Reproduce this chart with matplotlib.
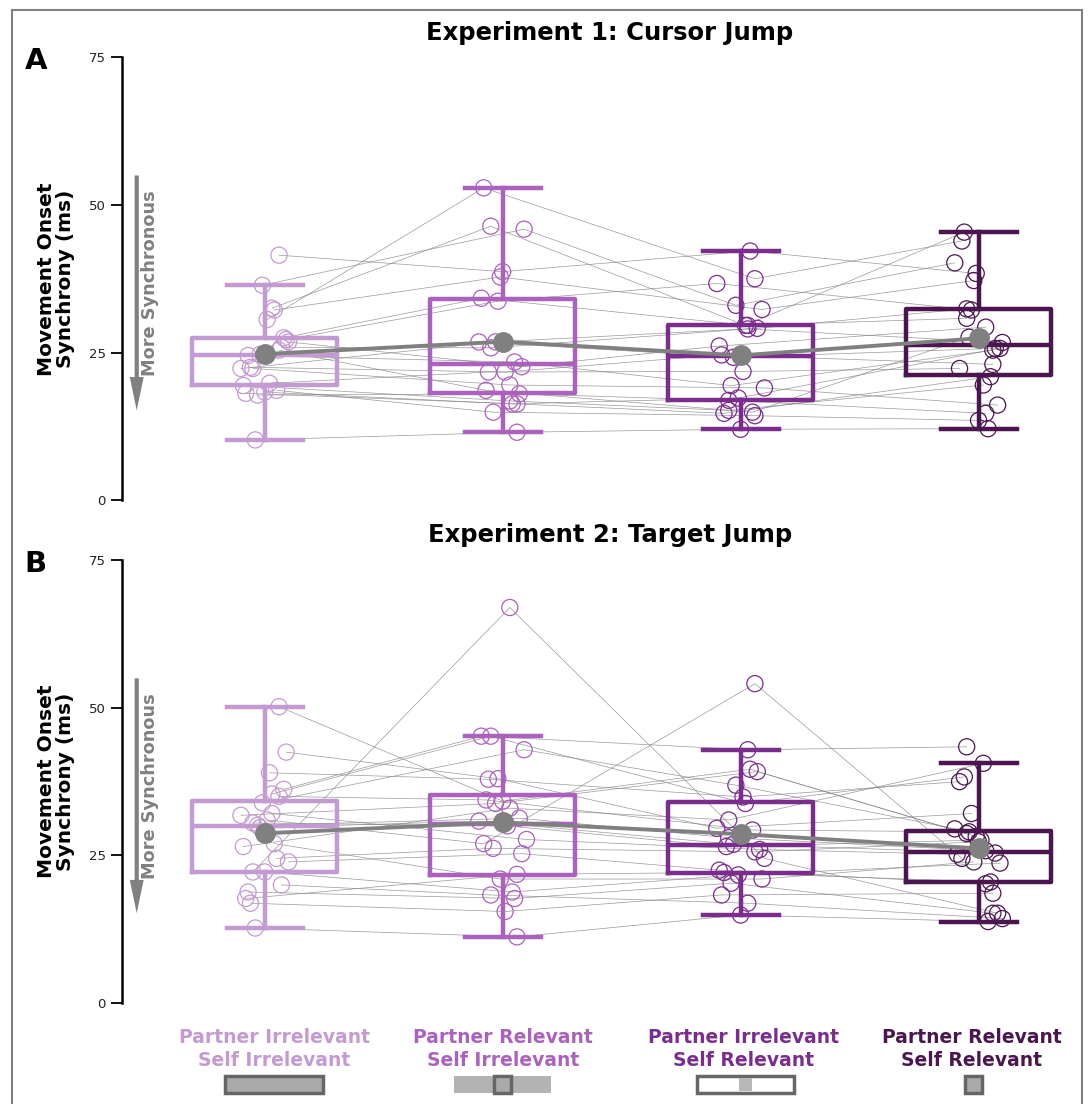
import numpy as np
import matplotlib.pyplot as plt
from matplotlib.patches import Rectangle
import matplotlib.transforms as mtransforms

# Condiciones y colores
conditions = ['Partner Irrelevant\nSelf Irrelevant', 'Partner Relevant\nSelf Irrelevant',
              'Partner Irrelevant\nSelf Relevant', 'Partner Relevant\nSelf Relevant']
colors = ['#c49ad2', '#ab62bd', '#7b2d8e', '#4b1650']

# Experimento 1 (22 sujetos, mismo orden en cada condición)
exp1_c1 = [24.7, 41.5, 18.1, 32.5, 22.3, 27.2, 10.2, 30.6, 19.4, 25.9, 36.4,
           18.6, 22.5, 27.5, 17.8, 32.2, 24.5, 19.8, 26.8, 22.3, 18.3, 25.4]
exp1_c2 = [26.8, 38.7, 16.3, 46.4, 19.5, 33.7, 11.5, 52.9, 16.8, 25.8, 45.9,
           14.9, 21.7, 34.2, 18.0, 37.8, 23.4, 21.7, 22.6, 26.8, 16.3, 18.6]
exp1_c3 = [24.2, 42.2, 14.7, 29.6, 19.0, 36.7, 12.0, 37.5, 15.2, 29.0, 33.0,
           14.3, 24.6, 29.6, 16.9, 32.3, 19.4, 21.8, 26.1, 29.1, 17.3, 14.9]
exp1_c4 = [25.7, 38.4, 20.9, 45.4, 16.1, 32.2, 12.1, 43.9, 19.5, 26.7, 40.2,
           13.5, 23.0, 30.8, 14.7, 37.2, 25.4, 22.3, 29.3, 32.4, 25.7, 27.6]

# Experimento 2 (24 sujetos)
exp2_c1 = [29.7, 50.2, 17.7, 35.4, 22.2, 42.5, 12.7, 31.0, 26.5, 20.0, 33.9, 24.5,
           16.9, 36.2, 30.1, 27.0, 18.8, 39.0, 23.9, 31.8, 22.2, 35.0, 30.5, 32.1]
exp2_c2 = [30.8, 34.2, 21.8, 45.2, 67.0, 38.0, 11.2, 27.0, 33.0, 18.3, 42.9, 26.2,
           15.5, 45.2, 31.3, 21.0, 17.7, 37.9, 25.3, 33.8, 18.8, 34.4, 30.0, 27.7]
exp2_c3 = [26.9, 39.6, 22.1, 33.8, 24.5, 29.6, 14.9, 54.1, 31.0, 16.9, 36.9, 25.6,
           18.3, 42.9, 28.0, 21.0, 20.3, 34.9, 22.5, 39.2, 21.7, 29.3, 26.5, 26.0]
exp2_c4 = [25.4, 28.2, 20.5, 38.3, 15.2, 32.1, 13.8, 24.5, 40.6, 14.3, 29.5, 27.3,
           18.6, 43.4, 25.8, 23.9, 15.2, 37.5, 20.2, 28.7, 23.7, 29.0, 27.6, 25.2]

# Desplazamiento horizontal de los puntos (fijo)
jitter = [-0.02, 0.06, -0.08, 0.03, -0.05, 0.09, -0.04, 0.01, -0.09, 0.07, -0.01, 0.05,
          -0.06, 0.08, -0.03, 0.04, -0.07, 0.02, 0.10, -0.10, 0.0, 0.06, -0.05, 0.03]

gris = '#808080'


def panel(ax, data, titulo, letra, ytitulo):
    pos = np.arange(len(data))
    n = len(data[0])
    bp = ax.boxplot(data, positions=pos, widths=0.61, whis=1.5, showfliers=False,
                    capwidths=0.32, zorder=2)
    for i, c in enumerate(colors):
        bp['boxes'][i].set(color=c, linewidth=3.2)
        bp['medians'][i].set(color=c, linewidth=3.2)
        for j in (2 * i, 2 * i + 1):
            bp['whiskers'][j].set(color=c, linewidth=3.2)
            bp['caps'][j].set(color=c, linewidth=3.2)

    xs = np.array([i + np.roll(jitter, 5 * i)[:n] for i in pos])
    ys = np.array(data)
    for s in range(n):
        ax.plot(xs[:, s], ys[:, s], color='gray', lw=0.5, alpha=0.8, zorder=1)
    for i, c in enumerate(colors):
        ax.scatter(xs[i], ys[i], s=135, facecolors='none', edgecolors=c,
                   linewidths=0.9, zorder=3)

    medias = ys.mean(axis=1)
    ax.plot(pos, medias, color=gris, lw=2.8, marker='o', ms=14, zorder=5)

    # Flecha "More Synchronous"
    ax.annotate('', xy=(-0.538, 15.2), xytext=(-0.538, 55),
                arrowprops=dict(width=3, headwidth=10, headlength=24,
                                color=gris, lw=0))
    ax.text(-0.483, 36.7, 'More Synchronous', rotation=90, color=gris,
            fontsize=12.8, fontweight='bold', ha='center', va='center')

    ax.set_xlim(-0.6, 3.4)
    ax.set_ylim(0, 75)
    for lado in ('top', 'right', 'bottom'):
        ax.spines[lado].set_visible(False)
    ax.spines['left'].set_linewidth(1.8)
    ax.spines['left'].set_bounds(0, 75)
    ax.set_xticks([])
    ax.set_yticks([0, 25, 50, 75])
    ax.tick_params(axis='y', length=8, width=1.3, labelsize=9.5, labelcolor='#222222')
    ax.set_ylabel('Movement Onset\nSynchrony (ms)', fontsize=14.5, fontweight='bold',
                  linespacing=1.05)
    ax.yaxis.set_label_coords(-0.049, 0.5)

    fig.text(0.56, ytitulo, titulo, fontsize=17.5, fontweight='bold',
             ha='center', va='center')
    bb = ax.get_position()
    fig.text(0.033, bb.y1 - 0.003, letra, fontsize=21, fontweight='bold',
             ha='center', va='center')


fig = plt.figure(figsize=(10.89, 11.04), dpi=100)
axA = fig.add_axes([0.112, 0.547, 0.874, 0.401])
axB = fig.add_axes([0.112, 0.0915, 0.874, 0.401])

panel(axA, [exp1_c1, exp1_c2, exp1_c3, exp1_c4], 'Experiment 1: Cursor Jump', 'A', 0.970)
panel(axB, [exp2_c1, exp2_c2, exp2_c3, exp2_c4], 'Experiment 2: Target Jump', 'B', 0.5154)

# Etiquetas de condición e iconos bajo el panel B
trans = mtransforms.blended_transform_factory(axB.transData, axB.transAxes)
desplaz = [0.04, 0.0, 0.01, -0.03]
for i, (lab, c) in enumerate(zip(conditions, colors)):
    axB.text(i + desplaz[i], -0.104, lab, transform=trans, color=c, fontsize=13.5,
             fontweight='bold', ha='center', va='center', linespacing=1.25)

y0, h = -0.203, 0.038
borde = '#666666'
relleno = '#aaaaaa'
ancho, chico = 0.41, 0.07
# 1: ambos irrelevantes
axB.add_patch(Rectangle((0.04 - ancho / 2, y0), ancho, h, transform=trans, clip_on=False,
                        fc=relleno, ec=borde, lw=2.5))
# 2: compañero relevante
axB.add_patch(Rectangle((1.0 - ancho / 2, y0), ancho, h, transform=trans, clip_on=False,
                        fc='#b3b3b3', ec='none'))
axB.add_patch(Rectangle((1.0 - chico / 2, y0), chico, h, transform=trans, clip_on=False,
                        fc=relleno, ec=borde, lw=2.5))
# 3: propio relevante
axB.add_patch(Rectangle((2.02 - ancho / 2, y0), ancho, h, transform=trans, clip_on=False,
                        fc='white', ec=borde, lw=2.5))
axB.add_patch(Rectangle((2.02 - 0.055 / 2, y0 + 0.004), 0.055, h - 0.008, transform=trans,
                        clip_on=False, fc='#b8b8b8', ec='none'))
# 4: ambos relevantes
axB.add_patch(Rectangle((2.98 - chico / 2, y0), chico, h, transform=trans, clip_on=False,
                        fc=relleno, ec=borde, lw=2.5))

# Marco de la figura
fig.add_artist(Rectangle((12 / 1089, -0.01), 1070 / 1089, 1.01 - 10 / 1104,
                         transform=fig.transFigure, fill=False, ec=gris, lw=1.5))

fig.savefig('out.png', dpi=100)
